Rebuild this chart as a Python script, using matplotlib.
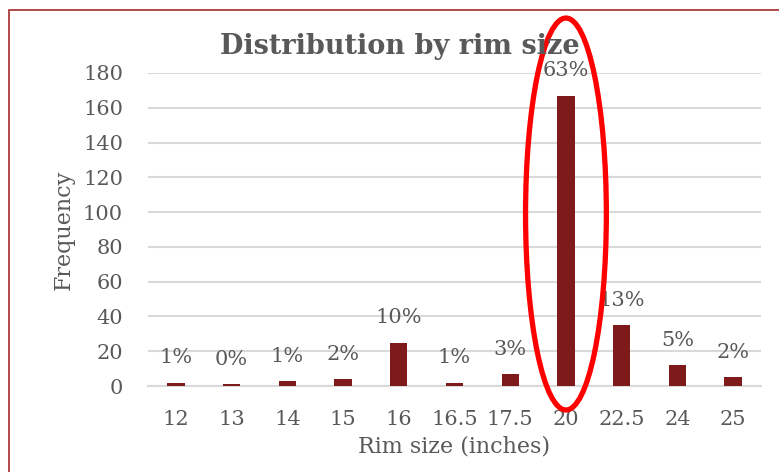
import matplotlib
matplotlib.use("Agg")
import matplotlib.pyplot as plt
from matplotlib.patches import Ellipse, Rectangle

rim_sizes = ["12", "13", "14", "15", "16", "16.5", "17.5", "20", "22.5", "24", "25"]
frequency = [2, 1, 3, 4, 25, 2, 7, 167, 35, 12, 5]
y_ticks = [0, 20, 40, 60, 80, 100, 120, 140, 160, 180]

total = sum(frequency)
shares = [f"{round(100 * v / total)}%" for v in frequency]

GREY = "#595959"
BAR = "#7F1A1A"
FONT = ["DejaVu Serif"]

plt.rcParams["font.family"] = FONT

fig = plt.figure(figsize=(7.79, 4.72), dpi=100)
ax = fig.add_axes([148 / 779, 1 - 386 / 472, 613 / 779, 313 / 472])

x = list(range(len(rim_sizes)))
ax.bar(x, frequency, width=0.31, color=BAR, zorder=3)

for xi, v, s in zip(x, frequency, shares):
    ax.annotate(s, (xi, v), xytext=(0, 11), textcoords="offset points",
                ha="center", va="bottom", fontsize=15, color=GREY,
                annotation_clip=False, zorder=5)

ax.set_ylim(0, 180)
ax.set_xlim(-0.5, len(rim_sizes) - 0.5)
ax.set_yticks(y_ticks)
ax.set_xticks(x)
ax.set_xticklabels(rim_sizes)
ax.tick_params(axis="both", length=0, labelsize=15, labelcolor=GREY)
ax.tick_params(axis="x", pad=17)
ax.tick_params(axis="y", pad=18)
ax.yaxis.grid(True, color="#D9D9D9", linewidth=1.5, zorder=0)
for side in ("top", "right", "left"):
    ax.spines[side].set_visible(False)
ax.spines["bottom"].set_color("#D9D9D9")
ax.spines["bottom"].set_linewidth(1.5)

ax.set_ylabel("Frequency", fontsize=16, color=GREY, labelpad=6)
ax.set_xlabel("Rim size (inches)", fontsize=16, color=GREY, labelpad=5)

fig.text(400 / 779, 1 - 47 / 472, "Distribution by rim size", ha="center",
         va="center", fontsize=19.5, fontweight="bold", color=GREY)

# highlight around the dominant rim size
ax.add_patch(Ellipse((7, 98.9), 1.45, 225.4, fill=False, edgecolor="#FF0000",
                     linewidth=3.8, clip_on=False, zorder=6))

# chart frame
fig.add_artist(Rectangle((9 / 779, -0.1), 1.0, 1 - 10 / 472 + 0.1,
                         transform=fig.transFigure, fill=False,
                         edgecolor="#A52A2A", linewidth=1.2))

fig.savefig("out.png", dpi=100)
